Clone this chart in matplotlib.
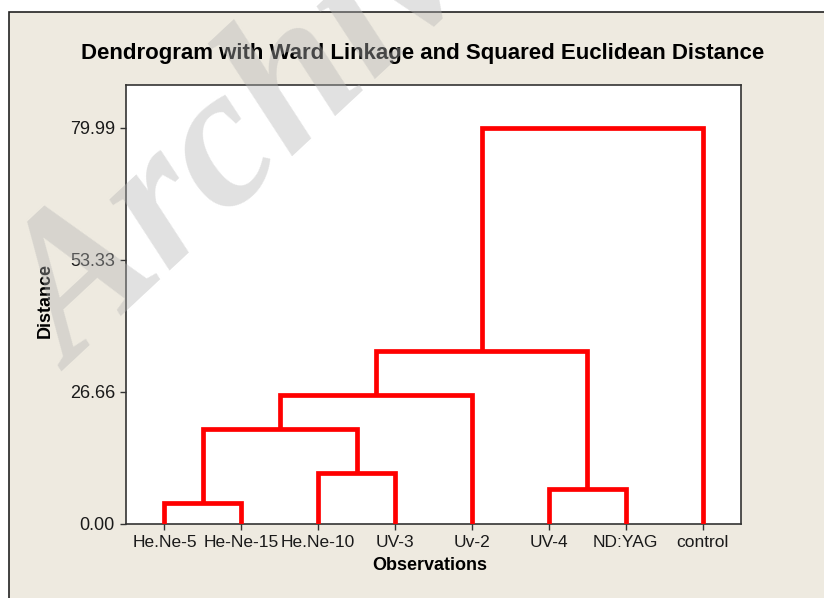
import matplotlib
matplotlib.use("Agg")
import matplotlib.pyplot as plt
from matplotlib.patches import Rectangle

# data
labels = ["He.Ne-5", "He-Ne-15", "He.Ne-10", "UV-3", "Uv-2", "UV-4", "ND:YAG", "control"]
# merges in order: (left cluster, right cluster, distance); leaves are 0..7, new clusters 8, 9, ...
merge_left = [0, 5, 2, 8, 11, 12, 13]
merge_right = [1, 6, 3, 10, 4, 9, 7]
merge_height = [4.1, 7.0, 10.2, 19.0, 25.9, 34.9, 79.99]
yticks = [0.00, 26.66, 53.33, 79.99]

plt.rcParams['font.family'] = ['Liberation Sans', 'DejaVu Sans']

fig = plt.figure(figsize=(8.24, 5.98), dpi=100)
fig.patch.set_facecolor('white')

# beige frame, cropped on the right and bottom
fig.add_artist(Rectangle((9 / 824, -0.05), 1.2, 1 - 12 / 598 + 0.05, transform=fig.transFigure,
                         facecolor='#eeeae0', edgecolor='#222222', linewidth=1.2, zorder=-5))

ax = fig.add_axes([126 / 824, 1 - 523.5 / 598, 615 / 824, (523.5 - 85) / 598])
ax.set_facecolor('white')

n = len(labels)
xpos = {i: float(i) for i in range(n)}
hpos = {i: 0.0 for i in range(n)}
for k, (a, b, h) in enumerate(zip(merge_left, merge_right, merge_height)):
    xa, xb = xpos[a], xpos[b]
    ax.plot([xa, xa, xb, xb], [hpos[a], h, h, hpos[b]], color='#ff0000', lw=3.4,
            solid_joinstyle='miter', solid_capstyle='butt', zorder=3)
    xpos[n + k] = (xa + xb) / 2
    hpos[n + k] = h

ax.set_xlim(-0.5, n - 0.5)
ax.set_ylim(0, 88.6)
ax.set_xticks(range(n))
ax.set_xticklabels(labels, fontsize=12.5, color='#1a1a1a')
ax.set_yticks(yticks)
ax.set_yticklabels(["%.2f" % v for v in yticks], fontsize=13, color='#1a1a1a')
ax.tick_params(length=4, width=1, color='#333333', pad=4)
for s in ax.spines.values():
    s.set_color('#333333')
    s.set_linewidth(1.2)

fig.text(423 / 824, 1 - 54 / 598, "Dendrogram with Ward Linkage and Squared Euclidean Distance",
         ha='center', va='center', fontsize=16, fontweight='bold')
fig.text(430 / 824, 1 - 566 / 598, "Observations", ha='center', va='center',
         fontsize=13, fontweight='bold')
fig.text(45 / 824, 1 - 300 / 598, "Distance", ha='center', va='center', rotation=90,
         fontsize=13, fontweight='bold')

# watermark
fig.text(72 / 824, 1 - 372 / 598, "Archive", rotation=43, rotation_mode='anchor',
         ha='left', va='baseline', fontsize=145, fontweight='bold', fontstyle='italic',
         family='Liberation Serif', color='#b4b4b4', alpha=0.4, zorder=10)

fig.savefig("out.png", dpi=100)
